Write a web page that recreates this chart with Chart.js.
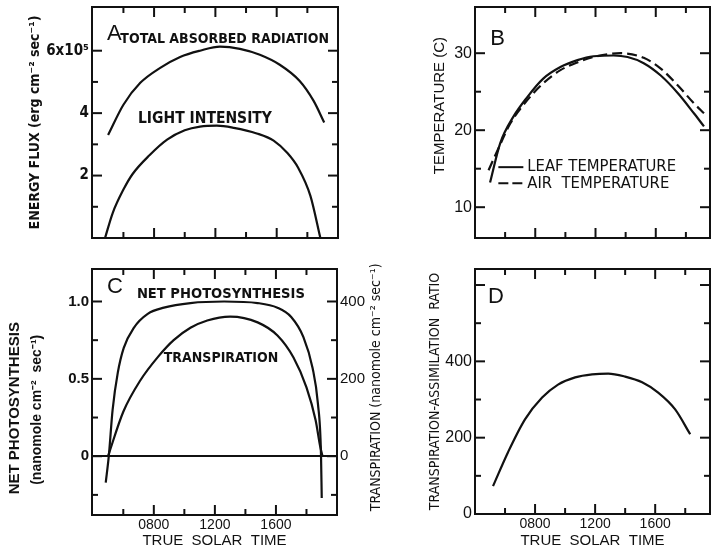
<!DOCTYPE html>
<html>
<head>
<meta charset="utf-8">
<script src="https://cdn.jsdelivr.net/npm/chart.js@4.4.1/dist/chart.umd.min.js"></script>
<style>
body { margin: 0; background: #fff; width: 711px; height: 559px; position: relative; overflow: hidden; }
canvas { position: absolute; }
</style>
</head>
<body>
<canvas id="chartA" width="360" height="260" style="left:0;top:0"></canvas>
<canvas id="chartB" width="351" height="260" style="left:360px;top:0"></canvas>
<canvas id="chartC" width="395" height="299" style="left:0;top:260px"></canvas>
<canvas id="chartD" width="351" height="299" style="left:360px;top:260px"></canvas>
<script>
// time axis (true solar time, hours)
const timeTicks = [6, 8, 10, 12, 14, 16, 18];
const timeMajor = [8, 12, 16];
const timeNames = ['', '0800', '', '1200', '', '1600', ''];

// A: energy flux (x10^5 erg cm-2 sec-1)
const absorbedHours = [5.0, 6.0, 7.1, 8.4, 9.7, 11.0, 12.3, 13.6, 14.9, 16.2, 17.5, 18.4, 19.1];
const absorbedFlux = [3.3, 4.27, 4.97, 5.45, 5.8, 6.0, 6.13, 6.06, 5.87, 5.55, 5.03, 4.4, 3.7];
const lightHours = [4.8, 5.3, 6.0, 6.6, 7.7, 8.85, 10.0, 11.0, 12.1, 13.2, 14.7, 15.8, 16.7, 17.4, 18.2, 18.85];
const lightFlux = [0, 0.8, 1.55, 2.05, 2.65, 3.15, 3.45, 3.57, 3.6, 3.53, 3.35, 3.12, 2.72, 2.25, 1.35, 0];
const fluxTicks = [1, 2, 3, 4, 5, 6];
const fluxMajor = [2, 4, 6];

// B: temperature (C)
const leafHours = [5.0, 5.67, 6.53, 7.47, 8.53, 9.67, 10.8, 11.87, 13.2, 14.13, 15.2, 16.33, 17.47, 18.53, 19.2];
const leafTemp = [13.2, 18.3, 21.7, 24.3, 26.7, 28.2, 29.1, 29.6, 29.7, 29.5, 28.7, 27.1, 24.8, 22.2, 20.5];
const airHours = [4.9, 5.5, 6.35, 7.47, 8.53, 9.67, 10.8, 11.87, 13.67, 15.2, 16.33, 17.47, 18.53, 19.2];
const airTemp = [14.8, 17.4, 20.9, 23.9, 26.1, 27.8, 28.8, 29.5, 30.0, 29.4, 28.0, 25.8, 23.5, 22.2];
const tempTicks = [10, 15, 20, 25, 30];
const tempMajor = [10, 20, 30];

// C: net photosynthesis and transpiration (nanomole cm-2 sec-1)
const photoHours = [4.85, 5.05, 5.3, 5.64, 6.03, 6.69, 7.6, 8.66, 10.4, 12.6, 14.8, 16.1, 17.0, 17.8, 18.4, 18.75, 18.95, 19.0];
const photoRate = [-0.17, 0, 0.3, 0.54, 0.70, 0.83, 0.92, 0.96, 0.99, 1.0, 0.99, 0.96, 0.90, 0.77, 0.57, 0.34, 0.02, -0.27];
const transpHours = [5.0, 6.0, 7.1, 8.3, 9.3, 10.4, 11.5, 13.0, 14.8, 16.1, 17.15, 18.0, 18.6, 18.9, 19.05];
const transpRate = [0, 115, 195, 258, 300, 332, 351, 361, 346, 312, 255, 178, 93, 25, 0];
const photoTicks = [-0.25, 0, 0.25, 0.5, 0.75, 1.0];
const photoMajor = [0, 0.5, 1.0];
const transpTicks = [-100, 0, 100, 200, 300, 400];
const transpMajor = [0, 200, 400];

// D: transpiration-assimilation ratio
const ratioHours = [5.2, 6.2, 7.33, 8.47, 9.53, 10.67, 11.8, 12.87, 14.0, 15.13, 16.2, 17.33, 18.33];
const ratioValue = [73, 162, 248, 305, 339, 358, 366, 368, 360, 345, 318, 274, 209];
const ratioTicks = [0, 100, 200, 300, 400, 500, 600];
const ratioMajor = [200, 400, 600];

const NARROW = "'Liberation Sans Narrow', 'DejaVu Sans Condensed', 'Liberation Sans', sans-serif";
const SANS = "'Liberation Sans', Arial, sans-serif";
const INK = '#111';
Chart.defaults.font.family = SANS;
Chart.defaults.color = INK;

let pairs = (xs, ys) => xs.map((x, i) => ({x: x, y: ys[i]}));

function curve(hours, vals, extra) {
    return Object.assign({
        data: pairs(hours, vals),
        borderColor: INK,
        borderWidth: 2.2,
        pointRadius: 0,
        fill: false,
        cubicInterpolationMode: 'monotone'
    }, extra || {});
}

// one plugin per panel: inner tick marks on all four sides, then free text / legend samples
function panelMarks(tickSets, texts, lines) {
    return {
        id: 'panelMarks',
        afterDraw(chart) {
            const ctx = chart.ctx;
            const a = chart.chartArea;
            const sx = chart.scales.x, sy = chart.scales.y;
            ctx.save();
            ctx.strokeStyle = INK;
            ctx.fillStyle = INK;
            ctx.lineWidth = 2;
            ctx.setLineDash([]);
            tickSets.forEach(set => {
                const s = chart.scales[set.id];
                set.vals.forEach(v => {
                    const len = set.major.indexOf(v) >= 0 ? 10 : 6;
                    const p = s.getPixelForValue(v);
                    ctx.beginPath();
                    if (set.side === 'left') { ctx.moveTo(a.left, p); ctx.lineTo(a.left + len, p); }
                    if (set.side === 'right') { ctx.moveTo(a.right, p); ctx.lineTo(a.right - len, p); }
                    if (set.side === 'bottom') { ctx.moveTo(p, a.bottom); ctx.lineTo(p, a.bottom - len); }
                    if (set.side === 'top') { ctx.moveTo(p, a.top); ctx.lineTo(p, a.top + len); }
                    ctx.stroke();
                });
            });
            (lines || []).forEach(l => {
                ctx.setLineDash(l.dash || []);
                ctx.beginPath();
                ctx.moveTo(sx.getPixelForValue(l.x1), sy.getPixelForValue(l.y));
                ctx.lineTo(sx.getPixelForValue(l.x2), sy.getPixelForValue(l.y));
                ctx.stroke();
            });
            ctx.setLineDash([]);
            (texts || []).forEach(t => {
                ctx.font = t.font;
                ctx.textBaseline = 'middle';
                let px;
                if (t.side === 'left') px = a.left + t.dx;
                else if (t.side === 'right') px = a.right + t.dx;
                else px = sx.getPixelForValue(t.x);
                const py = sy.getPixelForValue(t.y);
                ctx.save();
                ctx.translate(px, py);
                if (t.rot) {
                    ctx.rotate(-Math.PI / 2);
                    ctx.textAlign = 'center';
                } else {
                    ctx.textAlign = 'left';
                }
                ctx.fillText(t.text, 0, 0);
                ctx.restore();
            });
            ctx.restore();
        }
    };
}

function frameTicks(timeT, yVals, yMajor, rVals, rMajor) {
    return [
        {id: 'x', side: 'bottom', vals: timeT, major: timeMajor},
        {id: 'xTop', side: 'top', vals: timeT, major: timeMajor},
        {id: 'y', side: 'left', vals: yVals, major: yMajor},
        {id: 'yRight', side: 'right', vals: rVals || yVals, major: rMajor || yMajor}
    ];
}

function timeAxis(position, min, max, height, withLabels) {
    return {
        type: 'linear', position: position, min: min, max: max,
        afterBuildTicks: s => { s.ticks = timeTicks.map(v => ({value: v})); },
        afterFit: s => { s.height = height; s.paddingLeft = 0; s.paddingRight = 0; },
        grid: {display: false, drawTicks: false},
        border: {display: true, color: INK, width: 2},
        ticks: {
            display: withLabels, autoSkip: false, maxRotation: 0, padding: 2,
            font: {size: 14},
            callback: v => timeNames[timeTicks.indexOf(v)]
        },
        title: {
            display: withLabels, text: 'TRUE  SOLAR  TIME',
            font: {size: 15}, padding: {top: 0, bottom: 9}
        }
    };
}

function valueAxis(position, min, max, width, tickVals, labels, font, title) {
    return {
        type: 'linear', position: position, min: min, max: max,
        afterBuildTicks: s => { s.ticks = tickVals.map(v => ({value: v})); },
        afterFit: s => { s.width = width; s.paddingTop = 0; s.paddingBottom = 0; },
        grid: {display: false, drawTicks: false},
        border: {display: true, color: INK, width: 2},
        ticks: {
            display: !!labels, autoSkip: false, padding: 3,
            font: font || {size: 15},
            callback: v => (labels && labels[v] !== undefined) ? labels[v] : ''
        },
        title: title || {display: false}
    };
}

function baseOptions(scales) {
    return {
        responsive: false,
        animation: false,
        layout: {padding: 0},
        scales: scales,
        plugins: {legend: {display: false}, tooltip: {enabled: false}}
    };
}

// ---- A
new Chart(document.getElementById('chartA'), {
    type: 'line',
    data: {datasets: [
        curve(absorbedHours, absorbedFlux, {label: 'Total absorbed radiation'}),
        curve(lightHours, lightFlux, {label: 'Light intensity'})
    ]},
    options: baseOptions({
        x: timeAxis('bottom', 3.95, 20.0, 22, false),
        xTop: timeAxis('top', 3.95, 20.0, 7, false),
        y: valueAxis('left', 0, 7.4, 92, fluxTicks, {2: '2', 4: '4', 6: '6x10\u2075'},
            {size: 15, weight: 'bold', family: NARROW},
            {display: true, text: 'ENERGY FLUX (erg cm\u207B\u00B2 sec\u207B\u00B9)',
             font: {size: 14, weight: 'bold', family: NARROW}, padding: {top: 27, bottom: 0}}),
        yRight: valueAxis('right', 0, 7.4, 22, fluxTicks, null)
    }),
    plugins: [panelMarks(frameTicks(timeTicks, fluxTicks, fluxMajor), [
        {text: 'A', x: 4.93, y: 6.53, font: '22px ' + SANS},
        {text: 'TOTAL ABSORBED RADIATION', x: 5.8, y: 6.37, font: 'bold 14px ' + NARROW},
        {text: 'LIGHT INTENSITY', x: 6.95, y: 3.82, font: 'bold 15.5px ' + NARROW}
    ])]
});

// ---- B
new Chart(document.getElementById('chartB'), {
    type: 'line',
    data: {datasets: [
        curve(leafHours, leafTemp, {label: 'Leaf temperature'}),
        curve(airHours, airTemp, {label: 'Air temperature', borderDash: [10, 5]})
    ]},
    options: baseOptions({
        x: timeAxis('bottom', 4.0, 19.6, 22, false),
        xTop: timeAxis('top', 4.0, 19.6, 7, false),
        y: valueAxis('left', 6, 36, 115, tempTicks, {10: '10', 20: '20', 30: '30'}, {size: 16}),
        yRight: valueAxis('right', 6, 36, 1, tempTicks, null)
    }),
    plugins: [panelMarks(frameTicks(timeTicks, tempTicks, tempMajor), [
        {text: 'B', x: 5.02, y: 31.9, font: '22px ' + SANS},
        {text: 'LEAF TEMPERATURE', x: 7.47, y: 15.2, font: '16.5px ' + NARROW},
        {text: 'AIR  TEMPERATURE', x: 7.47, y: 13.1, font: '16.5px ' + NARROW},
        {text: 'TEMPERATURE (C)', side: 'left', dx: -35, y: 23.2, rot: true, font: '15px ' + SANS}
    ], [
        {x1: 5.55, x2: 7.21, y: 15.2},
        {x1: 5.55, x2: 7.21, y: 13.1, dash: [10, 4]}
    ])]
});

// ---- C
new Chart(document.getElementById('chartC'), {
    type: 'line',
    data: {datasets: [
        curve(photoHours, photoRate, {label: 'Net photosynthesis'}),
        curve(transpHours, transpRate, {label: 'Transpiration', yAxisID: 'yRight'})
    ]},
    options: baseOptions({
        x: timeAxis('bottom', 3.95, 20.0, 44, true),
        xTop: timeAxis('top', 3.95, 20.0, 9, false),
        y: Object.assign(valueAxis('left', -0.38, 1.21, 92, photoTicks, {0: '0', 0.5: '0.5', 1: '1.0'},
            {size: 15, weight: 'bold'}), {
            grid: {display: true, drawTicks: false, drawOnChartArea: true, lineWidth: 2,
                   color: c => c.tick && c.tick.value === 0 ? INK : 'rgba(0,0,0,0)'}
        }),
        yRight: valueAxis('right', -152, 484, 58, transpTicks, {0: '0', 200: '200', 400: '400'}, {size: 15})
    }),
    plugins: [panelMarks(frameTicks(timeTicks, photoTicks, photoMajor, transpTicks, transpMajor), [
        {text: 'C', x: 4.93, y: 1.094, font: '22px ' + SANS},
        {text: 'NET PHOTOSYNTHESIS', x: 6.89, y: 1.05, font: 'bold 14.6px ' + NARROW},
        {text: 'TRANSPIRATION', x: 8.65, y: 0.632, font: 'bold 14px ' + NARROW},
        {text: 'NET PHOTOSYNTHESIS', side: 'left', dx: -77, y: 0.31, rot: true, font: 'bold 15px ' + SANS},
        {text: '(nanomole cm\u207B\u00B2  sec\u207B\u00B9)', side: 'left', dx: -55, y: 0.30, rot: true,
         font: 'bold 14px ' + SANS},
        {text: 'TRANSPIRATION (nanomole cm\u207B\u00B2 sec\u207B\u00B9)', side: 'right', dx: 39, y: 0.445,
         rot: true, font: '14px ' + NARROW}
    ])]
});

// ---- D
new Chart(document.getElementById('chartD'), {
    type: 'line',
    data: {datasets: [
        curve(ratioHours, ratioValue, {label: 'Transpiration-assimilation ratio'})
    ]},
    options: baseOptions({
        x: timeAxis('bottom', 4.0, 19.65, 45, true),
        xTop: timeAxis('top', 4.0, 19.65, 9, false),
        y: valueAxis('left', 0, 642, 115, ratioTicks, {0: '0', 200: '200', 400: '400'}, {size: 16},
            {display: true, text: 'TRANSPIRATION-ASSIMILATION  RATIO',
             font: {size: 14, family: NARROW}, padding: {top: 67, bottom: 0}}),
        yRight: valueAxis('right', 0, 642, 1, ratioTicks, null)
    }),
    plugins: [panelMarks(frameTicks(timeTicks, ratioTicks, ratioMajor), [
        {text: 'D', x: 4.87, y: 568, font: '22px ' + SANS}
    ])]
});
</script>
</body>
</html>
